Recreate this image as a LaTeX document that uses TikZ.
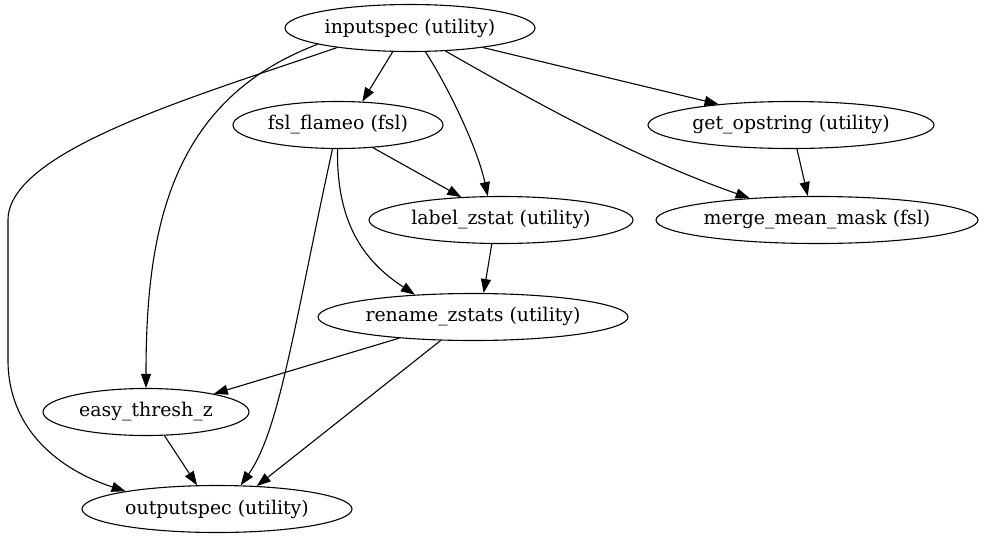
\documentclass[tikz,border=0pt]{standalone}
\usepackage{fontspec}
\setmainfont{DejaVu Serif}
\usetikzlibrary{shapes.geometric,arrows.meta}
\begin{document}
\begin{tikzpicture}[x=1pt,y=-1pt,
  nd/.style={ellipse,draw,line width=1.1pt,inner sep=0pt,minimum height=47pt,font=\fontsize{18.9}{22}\selectfont},
  edge/.style={line width=1.1pt,-{Triangle[length=14pt,width=10pt]}}]
\useasboundingbox (0,0) rectangle (986,539);
\node[nd,minimum width=250pt] (inputspec) at (410,28) {\makebox[0pt]{inputspec (utility)}};
\node[nd,minimum width=210pt] (fsl) at (338,125) {\makebox[0pt]{fsl\_flameo (fsl)}};
\node[nd,minimum width=286pt] (getop) at (791,125) {\makebox[0pt]{get\_opstring (utility)}};
\node[nd,minimum width=264pt] (label) at (501,220) {\makebox[0pt]{label\_zstat (utility)}};
\node[nd,minimum width=322pt] (merge) at (817,220) {\makebox[0pt]{merge\_mean\_mask (fsl)}};
\node[nd,minimum width=310pt] (rename) at (473,317) {\makebox[0pt]{rename\_zstats (utility)}};
\node[nd,minimum width=206pt] (easy) at (146,412) {\makebox[0pt]{easy\_thresh\_z}};
\node[nd,minimum width=270pt] (out) at (217,509) {\makebox[0pt]{outputspec (utility)}};

\draw[edge] (inputspec.-126) -- (fsl.44);
\draw[edge] (inputspec.-15) -- (getop.164);
\draw[edge] (inputspec.-57) .. controls (450,90) and (478,150) .. (label.119);
\draw[edge] (inputspec.-33) .. controls (540,105) and (640,160) .. (merge.162);
\draw[edge] (inputspec.-170) .. controls (170,100) and (146,230) .. (easy.90);
\draw[edge] (inputspec.-165) .. controls (200,95) and (8,150) .. (8,220) -- (8,360) .. controls (8,430) and (60,470) .. (out.169);
\draw[edge] (fsl.-33) -- (label.150);
\draw[edge] (fsl.-91) .. controls (336,230) and (370,265) .. (rename.159);
\draw[edge] (fsl.-103) .. controls (295,320) and (280,430) .. (out.45);
\draw[edge] (getop.-76) -- (merge.111);
\draw[edge] (label.-111) -- (rename.66);
\draw[edge] (rename.-164) -- (easy.15);
\draw[edge] (rename.-144) -- (out.30);
\draw[edge] (easy.-52) -- (out.130);
\end{tikzpicture}
\end{document}
